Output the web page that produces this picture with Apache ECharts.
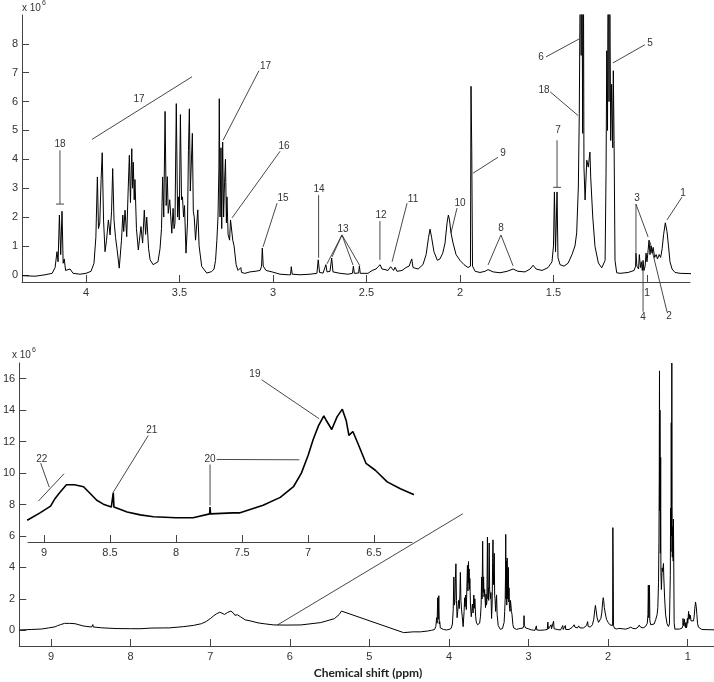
<!DOCTYPE html>
<html><head><meta charset="utf-8">
<script src="https://cdn.jsdelivr.net/npm/echarts@6/dist/echarts.min.js"></script>
<style>html,body{margin:0;padding:0;background:#fff}#c{width:714px;height:682px}</style>
</head><body><div id="c"></div>
<script>
// ---- data: [ppm, intensity x1e6] ----
const specAliphatic = [[4.342,-0.03],[4.272,-0.05],[4.219,0.0],[4.181,0.05],[4.165,0.25],[4.155,0.8],[4.149,0.45],[4.142,2.07],[4.135,0.7],[4.128,2.2],[4.122,0.4],[4.116,0.55],[4.109,0.15],[4.085,0.2],[4.069,0.05],[4.032,0.02],[4.000,0.05],[3.973,0.12],[3.957,0.4],[3.947,1.3],[3.939,3.39],[3.933,1.6],[3.926,1.8],[3.919,3.3],[3.913,4.23],[3.906,1.9],[3.898,0.8],[3.890,1.2],[3.880,1.9],[3.871,1.38],[3.863,2.2],[3.857,3.68],[3.850,1.9],[3.842,1.3],[3.834,0.9],[3.822,0.23],[3.810,1.2],[3.803,2.07],[3.798,1.5],[3.791,2.24],[3.782,1.32],[3.775,2.8],[3.768,4.14],[3.762,2.5],[3.755,4.37],[3.751,3.0],[3.747,3.9],[3.742,2.6],[3.738,3.3],[3.730,1.6],[3.720,0.86],[3.714,1.2],[3.706,1.67],[3.697,1.1],[3.688,2.24],[3.681,1.4],[3.675,2.0],[3.665,0.9],[3.657,0.52],[3.641,0.35],[3.631,0.29],[3.615,0.45],[3.604,0.9],[3.596,1.6],[3.590,3.39],[3.584,2.0],[3.577,5.66],[3.571,2.4],[3.565,3.4],[3.560,2.13],[3.552,2.6],[3.541,1.44],[3.534,2.3],[3.529,1.6],[3.524,1.78],[3.517,5.93],[3.510,2.0],[3.505,2.7],[3.501,1.9],[3.495,5.55],[3.489,2.6],[3.484,2.7],[3.478,2.0],[3.473,2.4],[3.465,0.75],[3.457,1.8],[3.452,4.3],[3.447,5.75],[3.442,2.9],[3.437,3.8],[3.431,4.9],[3.426,2.2],[3.421,2.0],[3.414,1.2],[3.402,2.25],[3.395,1.0],[3.381,0.29],[3.354,0.06],[3.328,0.11],[3.315,0.2],[3.307,0.5],[3.300,1.2],[3.294,2.0],[3.289,3.7],[3.287,6.1],[3.283,2.0],[3.278,4.4],[3.274,1.6],[3.269,4.6],[3.264,2.0],[3.259,3.2],[3.254,4.0],[3.249,1.8],[3.246,2.7],[3.240,1.4],[3.232,1.2],[3.227,1.9],[3.221,1.84],[3.215,1.2],[3.208,1.0],[3.197,0.35],[3.187,0.15],[3.172,0.25],[3.168,0.08],[3.150,0.05],[3.123,0.1],[3.096,0.12],[3.069,0.15],[3.061,0.3],[3.057,0.93],[3.052,0.3],[3.037,0.15],[3.005,0.1],[2.962,0.02],[2.919,0.0],[2.906,0.0],[2.902,0.28],[2.897,0.02],[2.855,0.0],[2.802,0.02],[2.765,0.05],[2.758,0.52],[2.751,0.08],[2.732,0.06],[2.717,0.35],[2.711,0.1],[2.695,0.12],[2.686,0.58],[2.679,0.1],[2.641,0.05],[2.599,0.02],[2.575,0.05],[2.570,0.3],[2.565,0.05],[2.542,0.06],[2.538,0.3],[2.533,0.05],[2.492,0.05],[2.470,0.15],[2.449,0.2],[2.438,0.28],[2.427,0.35],[2.417,0.2],[2.401,0.18],[2.385,0.15],[2.371,0.28],[2.362,0.3],[2.355,0.15],[2.347,0.26],[2.337,0.12],[2.310,0.15],[2.289,0.25],[2.272,0.3],[2.258,0.55],[2.251,0.25],[2.224,0.2],[2.198,0.35],[2.181,0.7],[2.168,1.3],[2.160,1.58],[2.152,1.3],[2.139,0.8],[2.121,0.5],[2.107,0.55],[2.092,0.75],[2.080,1.1],[2.069,1.8],[2.062,2.07],[2.056,1.9],[2.048,1.45],[2.037,1.1],[2.021,0.7],[2.000,0.5],[1.978,0.35],[1.957,0.25],[1.944,0.3],[1.941,6.53],[1.937,4.3],[1.933,0.3],[1.919,0.12],[1.893,0.08],[1.866,0.12],[1.850,0.18],[1.823,0.1],[1.786,0.07],[1.748,0.12],[1.716,0.2],[1.690,0.12],[1.652,0.1],[1.625,0.2],[1.609,0.33],[1.593,0.2],[1.561,0.15],[1.529,0.25],[1.508,0.45],[1.500,1.0],[1.495,2.87],[1.489,0.8],[1.481,2.87],[1.476,0.6],[1.465,0.35],[1.444,0.3],[1.422,0.4],[1.401,0.7],[1.385,1.0],[1.376,1.45],[1.367,3.04],[1.362,5.58],[1.358,9.5],[1.355,16.5],[1.352,7.6],[1.349,14.0],[1.344,4.9],[1.340,11.0],[1.337,3.73],[1.331,2.59],[1.322,3.97],[1.314,3.73],[1.305,4.25],[1.301,3.39],[1.290,2.0],[1.278,0.98],[1.260,0.41],[1.242,0.24],[1.230,0.41],[1.224,0.5],[1.219,3.5],[1.215,7.76],[1.211,5.0],[1.207,13.2],[1.203,6.0],[1.200,17.0],[1.197,8.0],[1.194,4.65],[1.189,6.6],[1.183,4.4],[1.180,7.07],[1.176,4.65],[1.171,0.5],[1.162,0.07],[1.144,0.05],[1.101,0.08],[1.069,0.15],[1.061,0.3],[1.059,0.75],[1.054,0.3],[1.049,0.35],[1.045,0.2],[1.041,0.7],[1.035,0.25],[1.030,0.45],[1.025,0.15],[1.021,0.5],[1.016,0.15],[1.010,0.3],[1.005,0.75],[1.000,0.45],[0.994,0.85],[0.989,1.2],[0.984,0.7],[0.978,1.0],[0.973,0.75],[0.967,0.95],[0.959,0.6],[0.951,0.7],[0.944,0.55],[0.935,0.7],[0.927,0.6],[0.919,0.9],[0.911,1.4],[0.902,1.8],[0.893,1.5],[0.885,1.0],[0.877,0.45],[0.866,0.2],[0.850,0.08],[0.823,0.05],[0.770,0.04],[0.670,0.03]];

const specBroad = [[9.40,0.02],[9.25,0.05],[9.12,0.08],[9.03,0.15],[8.95,0.22],[8.92,0.29],[8.88,0.36],[8.83,0.44],[8.77,0.44],[8.70,0.42],[8.65,0.35],[8.60,0.28],[8.55,0.24],[8.49,0.21],[8.478,0.21],[8.475,0.36],[8.47,0.21],[8.46,0.20],[8.37,0.16],[8.27,0.13],[8.17,0.11],[8.00,0.10],[7.87,0.10],[7.745,0.14],[7.742,0.21],[7.738,0.14],[7.57,0.15],[7.52,0.15],[7.34,0.23],[7.21,0.31],[7.11,0.42],[7.05,0.56],[7.00,0.74],[6.96,0.91],[6.92,1.05],[6.88,1.15],[6.86,1.10],[6.82,1.01],[6.78,1.14],[6.74,1.22],[6.71,1.10],[6.69,0.95],[6.66,0.99],[6.62,0.86],[6.56,0.66],[6.49,0.59],[6.40,0.47],[6.30,0.40],[6.20,0.34],[6.05,0.33],[5.86,0.34],[5.61,0.49],[5.44,0.74],[5.38,1.0],[5.35,1.22],[4.57,-0.15],[4.45,-0.1],[4.36,-0.1]];

const topTicksX = [4, 3.5, 3, 2.5, 2, 1.5, 1];
const topTicksY = [0, 1, 2, 3, 4, 5, 6, 7, 8];
const botTicksX = [9, 8, 7, 6, 5, 4, 3, 2, 1];
const botTicksY = [0, 2, 4, 6, 8, 10, 12, 14, 16];
const insetTicksX = [9, 8.5, 8, 7.5, 7, 6.5];

// annotations: label, label anchor [ppm, value], leader segments [ppm1,v1,ppm2,v2]
const topNotes = [
 {t:'18', at:[4.139,4.52], segs:[[4.139,4.31,4.139,2.45],[4.160,2.45,4.117,2.45]]},
 {t:'17', at:[3.716,6.07], segs:[[3.968,4.69,3.433,6.86]]},
 {t:'17', at:[3.040,7.24], segs:[[3.075,7.07,3.267,4.66]]},
 {t:'16', at:[2.941,4.45], segs:[[2.962,4.28,3.219,1.97]]},
 {t:'15', at:[2.946,2.66], segs:[[2.978,2.48,3.053,0.97]]},
 {t:'14', at:[2.754,2.97], segs:[[2.756,2.76,2.756,0.59]]},
 {t:'13', at:[2.625,1.59], segs:[[2.631,1.38,2.711,0.38],[2.631,1.38,2.684,0.62],[2.631,1.38,2.572,0.34],[2.631,1.38,2.535,0.31]]},
 {t:'12', at:[2.422,2.07], segs:[[2.428,1.86,2.428,0.52]]},
 {t:'11', at:[2.251,2.62], segs:[[2.283,2.48,2.363,0.45]]},
 {t:'10', at:[2.000,2.48], segs:[[2.016,2.31,2.048,1.45]]},
 {t:'9', at:[1.770,4.21], segs:[[1.797,4.07,1.930,3.52]]},
 {t:'8', at:[1.781,1.62], segs:[[1.781,1.38,1.850,0.34],[1.781,1.38,1.716,0.31]]},
 {t:'7', at:[1.476,5.0], segs:[[1.481,4.66,1.481,3.03],[1.502,3.03,1.460,3.03]]},
 {t:'6', at:[1.567,7.52], segs:[[1.540,7.55,1.363,8.17]]},
 {t:'18', at:[1.551,6.41], segs:[[1.518,6.34,1.369,5.52]]},
 {t:'5', at:[0.984,8.03], segs:[[1.011,7.97,1.182,7.34]]},
 {t:'3', at:[1.053,2.66], segs:[[1.059,2.45,1.059,0.76],[1.059,2.45,0.994,1.31]]},
 {t:'1', at:[0.807,2.83], segs:[[0.813,2.69,0.893,1.90]]},
 {t:'4', at:[1.021,-1.48], segs:[[1.021,-1.28,1.021,0.34]]},
 {t:'2', at:[0.882,-1.45], segs:[[0.893,-1.28,0.984,1.14]]}
];
const insetNotes = [
 {t:'22', at:[9.017,0.708], segs:[[9.025,0.663,8.960,0.415],[9.043,0.271,8.848,0.554]]},
 {t:'21', at:[8.184,1.007], segs:[[8.210,0.948,8.475,0.364]]},
 {t:'20', at:[7.742,0.701], segs:[[7.742,0.649,7.742,0.227],[7.692,0.701,7.066,0.698]]},
 {t:'19', at:[7.402,1.585], segs:[[7.351,1.523,6.915,1.121]]}
];
const zoomGuide = [[6.156,0.335,3.826,7.41]];

// ---- chart ----
const chart = echarts.init(document.getElementById('c'), null, {renderer:'canvas'});
const FONT = 'Liberation Sans';
const axCol = '#444';
function xAx(grid, min, max, ticks, showLabel) {
  return {type:'value', gridIndex:grid, min:min, max:max, inverse:true,
    axisLine:{show:true, onZero:false, lineStyle:{color:axCol, width:1}},
    axisTick:{show:true, inside:true, length:7, customValues:ticks, lineStyle:{color:axCol}},
    axisLabel:{show:showLabel, customValues:ticks, color:'#333', fontSize:11, fontFamily:FONT, margin:5},
    splitLine:{show:false}};
}
function yAx(grid, min, max, ticks, show) {
  return {type:'value', gridIndex:grid, min:min, max:max, show:show,
    axisLine:{show:true, onZero:false, lineStyle:{color:axCol, width:1}},
    axisTick:{show:true, inside:true, length:7, customValues:ticks, lineStyle:{color:axCol}},
    axisLabel:{show:true, customValues:ticks, color:'#333', fontSize:11, fontFamily:FONT, margin:4},
    splitLine:{show:false}};
}
const lineSer = (xi, yi, data, w) => ({type:'line', xAxisIndex:xi, yAxisIndex:yi, data:data,
  showSymbol:false, symbol:'none', clip:true, sampling:null, animation:false,
  lineStyle:{color:'#000', width:w}, emphasis:{disabled:true}});

chart.setOption({
  animation:false,
  grid:[
    {left:22, right:24, top:15, height:267},
    {left:12, right:0, top:363, height:283},
    {left:28, right:302, top:382, height:160}
  ],
  xAxis:[ xAx(0, 0.77, 4.342, topTicksX, true), xAx(1, 0.67, 9.40, botTicksX, true), xAx(2, 6.212, 9.121, insetTicksX, true) ],
  yAxis:[ yAx(0, -0.25, 9, topTicksY, true), yAx(1, -1, 17, botTicksY, true), yAx(2, -0.15, 1.5, [], false) ],
  series:[
    lineSer(0, 0, specAliphatic, 1),
    lineSer(1, 1, specBroad.concat(specAliphatic), 1),
    lineSer(2, 2, specBroad, 1.6)
  ]
});

function notesToGraphics(notes, gridIndex) {
  const els = [];
  notes.forEach(n => {
    n.segs.forEach(s => {
      const p1 = chart.convertToPixel({gridIndex:gridIndex}, [s[0], s[1]]);
      const p2 = chart.convertToPixel({gridIndex:gridIndex}, [s[2], s[3]]);
      els.push({type:'line', silent:true, shape:{x1:p1[0], y1:p1[1], x2:p2[0], y2:p2[1]}, style:{stroke:'#333', lineWidth:0.9}});
    });
    if (n.t) {
      const p = chart.convertToPixel({gridIndex:gridIndex}, n.at);
      els.push({type:'text', silent:true, x:p[0], y:p[1], style:{text:n.t, align:'center', verticalAlign:'middle', fontSize:10, fontFamily:FONT, fill:'#333'}});
    }
  });
  return els;
}
let gfx = [];
gfx = gfx.concat(notesToGraphics(topNotes, 0));
gfx = gfx.concat(notesToGraphics(insetNotes, 2));
gfx = gfx.concat(notesToGraphics(zoomGuide.map(s => ({segs:[s]})), 1));
gfx.push({type:'text', x:22, y:3, style:{text:'x 10', fontSize:10, fontFamily:FONT, fill:'#333'}});
gfx.push({type:'text', x:42, y:0, style:{text:'6', fontSize:7, fontFamily:FONT, fill:'#333'}});
gfx.push({type:'text', x:12, y:350, style:{text:'x 10', fontSize:10, fontFamily:FONT, fill:'#333'}});
gfx.push({type:'text', x:32, y:347, style:{text:'6', fontSize:7, fontFamily:FONT, fill:'#333'}});
gfx.push({type:'text', x:368, y:673, style:{text:'Chemical shift (ppm)', align:'center', verticalAlign:'middle', fontSize:12, fontWeight:'bold', fontFamily:'Lato', fill:'#222'}});
chart.setOption({graphic:gfx});
</script>
</body></html>
